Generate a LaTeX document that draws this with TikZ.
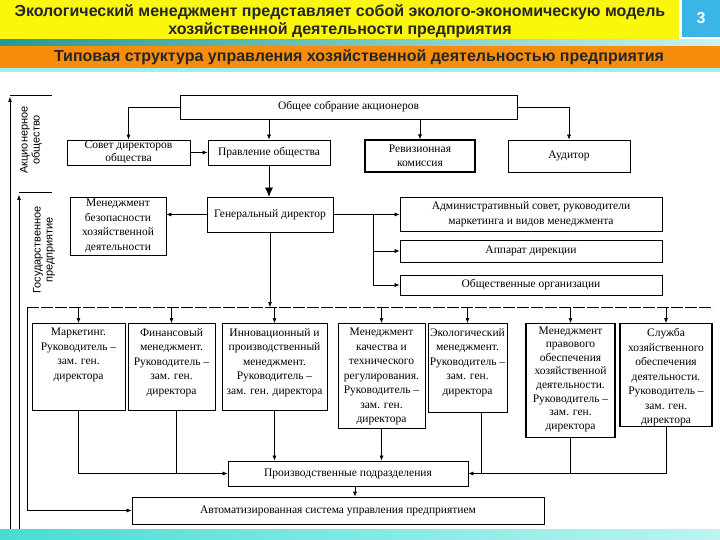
\documentclass[tikz,border=0pt]{standalone}
\usepackage{fontspec}
\setmainfont{Liberation Serif}
\newfontfamily\headfont{Liberation Sans}
\usepackage{xcolor}
\usepackage{tikz}
\usetikzlibrary{arrows.meta}
\definecolor{headyellow}{RGB}{250,246,12}
\definecolor{headorange}{RGB}{248,140,12}
\definecolor{headblue}{RGB}{58,182,230}
\definecolor{headteal}{RGB}{40,150,150}
\definecolor{lightcyan}{RGB}{160,238,238}
\definecolor{bandcyan}{RGB}{70,222,210}
\newcommand\boxfont{\fontsize{11.5}{14.5}\selectfont}
\newcommand\sidefont{\headfont\fontsize{11}{12}\selectfont}
\newcommand\topcell[3]{\parbox[c][#1][t]{#2}{\centering #3}}

\begin{document}
\begin{tikzpicture}[
  x=1pt, y=-1pt,
  blk/.style={draw, line width=0.7pt, fill=white, align=center, inner sep=1pt, font=\boxfont},
  thk/.style={blk, line width=1.3pt},
  tight/.style={font=\fontsize{11.5}{12.5}\selectfont},
  col/.style={blk, anchor=north, inner xsep=1pt, inner ysep=5pt},
  arr/.style={-{Latex[length=5pt, width=4pt]}, line width=0.6pt},
  big/.style={-{Latex[length=9pt, width=8pt]}, line width=0.6pt},
  ln/.style={line width=0.6pt},
  side/.style={font=\sidefont, align=center, rotate=90, inner sep=0pt},
  head/.style={font=\headfont\bfseries\fontsize{16}{18}\selectfont, text=black!85, align=center, inner sep=0pt}
]
\useasboundingbox (0,0) rectangle (720,540);

  % Шапка
  \fill[headyellow] (0,0) rectangle (679,40);
  \fill[headblue] (682,0) rectangle (720,37);
  \shade[left color=headteal, right color=lightcyan!60] (0,40) rectangle (720,46);
  \fill[headorange] (0,46) rectangle (720,68);
  \fill[lightcyan] (0,68) rectangle (720,72);
  \shade[left color=bandcyan, right color=lightcyan!70] (0,529) rectangle (720,540);
  \node[head] (title) at (340,21) {Экологический менеджмент представляет собой эколого-экономическую модель\\хозяйственной деятельности предприятия};
  \node[head, text=white] (num) at (701,18) {3};
  \node[head] (subtitle) at (359,57) {Типовая структура управления хозяйственной деятельностью предприятия};

  % Верхний уровень
  \node[blk, minimum width=337pt, minimum height=24pt] (sobr) at (348.5,107) {Общее собрание акционеров};
  \node[blk, tight, minimum width=123pt, minimum height=25pt] (sovet) at (128.5,152.5) {Совет директоров\\общества};
  \node[blk, minimum width=122pt, minimum height=25pt] (pravl) at (269,152.5) {Правление общества};
  \node[thk, minimum width=110pt, minimum height=32pt] (reviz) at (420,156) {Ревизионная\\комиссия};
  \node[blk, minimum width=122pt, minimum height=32pt] (audit) at (569,156) {Аудитор};

  % Генеральный директор
  \node[blk, minimum width=126pt, minimum height=35pt] (gen) at (270,214.5) {Генеральный директор};
  \node[blk, minimum width=96pt, minimum height=58pt] (bez) at (118,226) {Менеджмент\\безопасности\\хозяйственной\\деятельности};
  \node[blk, minimum width=262pt, minimum height=34pt] (adm) at (531,214.5) {Административный совет, руководители\\маркетинга и видов менеджмента};
  \node[blk, minimum width=262pt, minimum height=22pt] (appar) at (531,251) {Аппарат дирекции};
  \node[blk, minimum width=262pt, minimum height=20pt] (obsch) at (531,285) {Общественные организации};

  % Службы
  \node[col] (mark) at (78.5,323) {\topcell{77pt}{91pt}{Маркетинг.\\Руководитель –\\зам. ген.\\директора}};
  \node[col] (fin) at (171.5,323) {\topcell{77pt}{85pt}{Финансовый\\менеджмент.\\Руководитель –\\зам. ген.\\директора}};
  \node[col] (innov) at (274.5,323) {\topcell{77pt}{103pt}{Инновационный и\\производственный\\менеджмент.\\Руководитель –\\зам. ген. директора}};
  \node[col] (kach) at (381.5,323) {\topcell{95pt}{85pt}{Менеджмент\\качества и\\технического\\регулирования.\\Руководитель –\\зам. ген.\\директора}};
  \node[col] (ekol) at (467.5,323) {\topcell{79pt}{77pt}{Экологический\\менеджмент.\\Руководитель –\\зам. ген.\\директора}};
  \node[col, line width=1.3pt, inner ysep=3pt, font=\fontsize{11.5}{13.6}\selectfont] (prav) at (570.5,323) {\topcell{108pt}{87pt}{Менеджмент\\правового\\обеспечения\\хозяйственной\\деятельности.\\Руководитель –\\зам. ген.\\директора}};
  \node[col, line width=1.1pt] (sluzh) at (666,323) {\topcell{93pt}{90pt}{Служба\\хозяйственного\\обеспечения\\деятельности.\\Руководитель –\\зам. ген.\\директора}};

  % Низ
  \node[blk, minimum width=240pt, minimum height=25pt] (proizv) at (348,473.5) {Производственные подразделения};
  \node[blk, minimum width=412pt, minimum height=27pt] (asu) at (338,510.5) {Автоматизированная система управления предприятием};

  % Боковые шкалы
  \node[side] (ao) at (31,140) {Акционерное\\общество};
  \node[side] (gp) at (44,250) {Государственное\\предприятие};
  \coordinate (aoBot) at (10,529);
  \coordinate (aoTop) at (10,97);
  \coordinate (aoCapL) at (10,95);
  \coordinate (aoCapR) at (52,95);
  \coordinate (gpBot) at (19,529);
  \coordinate (gpTop) at (19,195);
  \coordinate (gpCapL) at (19,192);
  \coordinate (gpCapR) at (52,192);
  \coordinate (busL) at (27,307);
  \coordinate (busR) at (713,307);
  \coordinate (split) at (373,214.5);

  % Стрелки
  \draw[arr] (aoBot) -- (aoTop);
  \draw[ln] (aoCapL) -- (aoCapR);
  \draw[arr] (gpBot) -- (gpTop);
  \draw[ln] (gpCapL) -- (gpCapR);

  \draw[arr] (sobr.west) -| (sovet.north);
  \draw[arr] (sobr.south -| pravl.north) -- (pravl.north);
  \draw[arr] (sobr.south -| reviz.north) -- (reviz.north);
  \draw[arr] (sobr.east) -| (audit.north);
  \draw[arr] (sovet) -- (pravl);
  \draw[big] (pravl.south) -- (pravl.south |- gen.north);

  \draw[arr] (gen.west) -- (gen.west -| bez.east);
  \draw[arr] (gen.east) -- (gen.east -| adm.west);
  \draw[arr] (split) |- (appar.west);
  \draw[arr] (split) |- (obsch.west);
  \draw[arr] (gen.south) -- (gen.south |- busL);

  \draw[ln, dash pattern=on 12pt off 2pt] (busL) -- (busR);
  \foreach \b in {mark, fin, innov, kach, ekol, prav, sluzh}
    \draw[arr] (\b.north |- busL) -- (\b.north);
  \draw[arr] (busL) |- (asu.west);

  \draw[arr] (mark.south) |- (proizv.west);
  \draw[ln] ([xshift=5pt]fin.south) -- ([xshift=5pt]fin.south |- proizv.west);
  \draw[arr] (innov.south) -- (innov.south |- proizv.north);
  \draw[arr] (kach.south) -- (kach.south |- proizv.north);
  \draw[arr] (sluzh.south) |- (proizv.east);
  \draw[ln] ([xshift=14pt]ekol.south) -- ([xshift=14pt]ekol.south |- proizv.east);
  \draw[ln] (prav.south) -- (prav.south |- proizv.east);
  \draw[arr] ([xshift=7pt]proizv.south) -- ([xshift=7pt]proizv.south |- asu.north);

\end{tikzpicture}
\end{document}
